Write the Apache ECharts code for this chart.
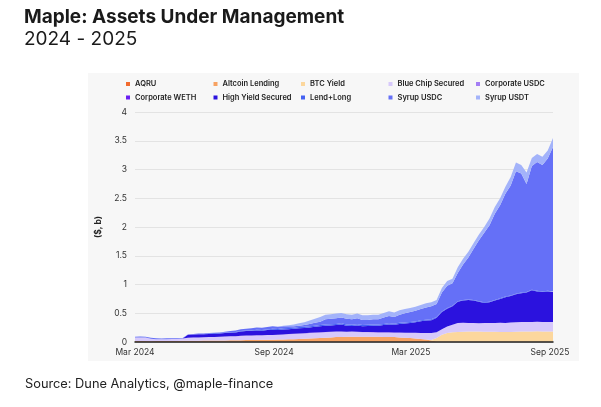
<!DOCTYPE html>
<html>
<head>
<meta charset="utf-8">
<script src="https://cdn.jsdelivr.net/npm/echarts@6/dist/echarts.min.js"></script>
<style>
  html, body { margin: 0; padding: 0; background: #fff; }
  #main { width: 601px; height: 407px; }
</style>
</head>
<body>
<div id="main"></div>
<script>
// weekly points, from 2024-03-01
var startDate = '2024-03-01';
var weeks = 80;

var names = ['AQRU', 'Altcoin Lending', 'BTC Yield', 'Blue Chip Secured', 'Corporate USDC',
    'Corporate WETH', 'High Yield Secured', 'Lend+Long', 'Syrup USDC', 'Syrup USDT'];
var colors = ['#f26b2e', '#f7a262', '#fcd79d', '#d7c9fb', '#a47ef4',
    '#6a1ff2', '#2b12de', '#4462f2', '#6570f7', '#a3b3fa'];

var tickLabels = ['2024-03-01', '2024-09-01', '2025-03-01', '2025-09-01'];

// values in $b
var aqru = [
    0.004,0.004,0.004,0.004,0.004,0.004,0.004,0.004,0.004,0.004,
    0.004,0.004,0.004,0.004,0.004,0.004,0.004,0.004,0.004,0.004,
    0.004,0.004,0.004,0.004,0.004,0.004,0.004,0.004,0.004,0.004,
    0.004,0.004,0.004,0.004,0.004,0.004,0.004,0.004,0.004,0.004,
    0.004,0.004,0.004,0.004,0.004,0.004,0.004,0.004,0.004,0.004,
    0.003,0.003,0.003,0.003,0.003,0.003,0.003,0.003,0.003,0.003,
    0.003,0.003,0.003,0.003,0.003,0.003,0.003,0.003,0.003,0.003,
    0.003,0.003,0.003,0.003,0.003,0.003,0.003,0.003,0.003,0.003
];
var altcoinLending = [
    0.012,0.012,0.012,0.011,0.012,0.013,0.014,0.014,0.015,0.016,
    0.017,0.018,0.019,0.020,0.021,0.022,0.023,0.024,0.026,0.027,
    0.028,0.029,0.030,0.032,0.033,0.034,0.036,0.038,0.040,0.043,
    0.046,0.049,0.053,0.056,0.061,0.066,0.071,0.076,0.081,0.084,
    0.086,0.086,0.088,0.086,0.086,0.087,0.086,0.085,0.084,0.081,
    0.077,0.072,0.067,0.059,0.049,0.039,0.025,0.007,0,0,
    0,0,0,0,0,0,0,0,0,0,
    0,0,0,0,0,0,0,0,0,0
];
var btcYield = [
    0,0,0,0,0,0,0,0,0,0,
    0,0,0,0,0,0,0,0,0,0,
    0,0,0,0,0,0,0,0,0,0,
    0,0,0,0,0,0,0,0,0,0,
    0,0,0,0,0,0,0,0,0,0,
    0,0,0,0,0,0,0.005,0.060,0.125,0.155,
    0.165,0.172,0.175,0.178,0.180,0.178,0.176,0.177,0.175,0.172,
    0.170,0.172,0.175,0.178,0.180,0.180,0.182,0.181,0.180,0.180
];
var blueChipSecured = [
    0.064,0.064,0.062,0.040,0.034,0.033,0.032,0.034,0.033,0.040,
    0.054,0.058,0.057,0.058,0.060,0.062,0.063,0.067,0.070,0.069,
    0.073,0.077,0.076,0.079,0.078,0.082,0.080,0.083,0.086,0.088,
    0.090,0.092,0.093,0.095,0.095,0.095,0.095,0.095,0.095,0.092,
    0.085,0.090,0.083,0.080,0.080,0.077,0.075,0.076,0.077,0.075,
    0.080,0.085,0.088,0.095,0.103,0.113,0.122,0.100,0.092,0.112,
    0.132,0.155,0.157,0.149,0.147,0.144,0.151,0.150,0.152,0.160,
    0.157,0.165,0.167,0.169,0.167,0.167,0.167,0.166,0.167,0.167
];
var corporateUsdc = [
    0,0,0,0,0,0,0,0,0,0,
    0,0,0,0,0,0,0,0,0,0,
    0.002,0.002,0.002,0.002,0.002,0.002,0.002,0.002,0.002,0.002,
    0.002,0.002,0.002,0.002,0.002,0.002,0.002,0.002,0.002,0.002,
    0.002,0.002,0.002,0.002,0.002,0.002,0.002,0.002,0.002,0.002,
    0.002,0.002,0.002,0.002,0.002,0.002,0,0,0,0,
    0,0,0,0,0,0,0,0,0,0,
    0,0,0,0,0,0,0,0,0,0
];
var corporateWeth = [
    0,0,0,0,0,0,0,0,0,0,
    0,0,0,0,0,0,0,0,0,0,
    0,0,0,0,0,0,0,0,0,0,
    0.002,0.002,0.002,0.002,0.002,0.002,0.002,0.002,0.002,0.002,
    0.002,0.002,0.002,0.002,0.002,0.002,0.002,0.002,0.002,0.002,
    0.002,0,0,0,0,0,0,0,0,0,
    0,0,0,0,0,0,0,0,0,0,
    0,0,0,0,0,0,0,0,0,0
];
var highYieldSecured = [
    0,0,0,0,0,0,0,0,0,0,
    0.050,0.050,0.055,0.053,0.055,0.057,0.060,0.060,0.060,0.065,
    0.075,0.080,0.080,0.085,0.080,0.085,0.090,0.080,0.085,0.085,
    0.085,0.090,0.090,0.095,0.100,0.105,0.110,0.110,0.110,0.120,
    0.105,0.095,0.110,0.100,0.105,0.112,0.115,0.125,0.135,0.135,
    0.150,0.160,0.172,0.183,0.205,0.215,0.225,0.250,0.300,0.310,
    0.320,0.370,0.385,0.400,0.390,0.375,0.350,0.360,0.390,0.415,
    0.450,0.460,0.485,0.500,0.510,0.550,0.528,0.520,0.530,0.520
];
var lendLong = [
    0,0,0,0,0,0,0,0,0,0,
    0,0,0,0,0.010,0.010,0.010,0.010,0.010,0.010,
    0.010,0.010,0.010,0.010,0.010,0.010,0.020,0.020,0.020,0.020,
    0.020,0.020,0.020,0.020,0.020,0.020,0.020,0.020,0.020,0.020,
    0.020,0.020,0.020,0.020,0.020,0.020,0.020,0.020,0.020,0.020,
    0.020,0.015,0.015,0.015,0.015,0.015,0.015,0.015,0.010,0.010,
    0.010,0.010,0.010,0.010,0.010,0.010,0.010,0.010,0.010,0.010,
    0.010,0.010,0.010,0.010,0.010,0.010,0.010,0.010,0.010,0.010
];
var syrupUsdc = [
    0.013,0.015,0.014,0.017,0.015,0.013,0.014,0.014,0.013,0.010,
    0.005,0.010,0.015,0.015,0.005,0.005,0.005,0.015,0.020,0.025,
    0.030,0.030,0.035,0.040,0.040,0.045,0.040,0.040,0.035,0.030,
    0.025,0.025,0.030,0.040,0.050,0.060,0.090,0.095,0.100,0.100,
    0.100,0.095,0.105,0.090,0.085,0.090,0.090,0.110,0.130,0.115,
    0.140,0.165,0.175,0.185,0.195,0.215,0.225,0.225,0.330,0.390,
    0.390,0.490,0.620,0.730,0.890,1.060,1.210,1.330,1.500,1.620,
    1.790,1.910,2.130,2.070,1.880,2.150,2.240,2.200,2.300,2.510
];
var syrupUsdt = [
    0,0,0,0,0,0,0,0,0,0,
    0,0,0,0,0,0,0,0,0,0,
    0,0,0,0,0,0,0,0,0.010,0.020,
    0.030,0.040,0.050,0.060,0.070,0.080,0.080,0.080,0.080,0.080,
    0.080,0.080,0.080,0.080,0.080,0.080,0.080,0.080,0.080,0.080,
    0.080,0.070,0.070,0.070,0.070,0.070,0.070,0.070,0.080,0.080,
    0.080,0.100,0.100,0.100,0.100,0.100,0.100,0.120,0.120,0.120,
    0.120,0.150,0.150,0.150,0.200,0.140,0.140,0.140,0.140,0.160
];

var seriesValues = [aqru, altcoinLending, btcYield, blueChipSecured, corporateUsdc,
    corporateWeth, highYieldSecured, lendLong, syrupUsdc, syrupUsdt];

var dates = [];
var t0 = new Date(startDate + 'T00:00:00Z').getTime();
for (var i = 0; i < weeks; i++) {
    dates.push(t0 + i * 7 * 86400000);
}

var monthNames = ['Jan', 'Feb', 'Mar', 'Apr', 'May', 'Jun', 'Jul', 'Aug', 'Sep', 'Oct', 'Nov', 'Dec'];
var tickTimes = tickLabels.map(function (d) { return new Date(d + 'T00:00:00Z').getTime(); });

// stacking needs a time base axis
var series = names.map(function (name, idx) {
    return {
        name: name,
        type: 'line',
        stack: 'aum',
        xAxisIndex: 0,
        showSymbol: false,
        symbol: 'none',
        lineStyle: { width: 0 },
        areaStyle: { color: colors[idx], opacity: 1 },
        itemStyle: { color: colors[idx] },
        data: seriesValues[idx].map(function (v, j) { return [dates[j], v]; })
    };
});

var myChart = echarts.init(document.getElementById('main'), null, { renderer: 'canvas' });

var option = {
    backgroundColor: '#ffffff',
    animation: false,
    textStyle: { fontFamily: 'Inter' },
    graphic: [{
        type: 'rect',
        z: -10,
        shape: { x: 88, y: 73, width: 491, height: 288 },
        style: { fill: '#f7f7f7' }
    }],
    title: [
        {
            text: 'Maple: Assets Under Management',
            left: 24, top: 8, padding: 0,
            textStyle: { fontFamily: 'Inter', fontSize: 19, fontWeight: 700, color: '#1a1a1a' }
        },
        {
            text: '2024 - 2025',
            left: 24, top: 30, padding: 0,
            textStyle: { fontFamily: 'Inter', fontSize: 19, fontWeight: 400, color: '#1a1a1a' }
        },
        {
            text: 'Source: Dune Analytics, @maple-finance',
            left: 25, top: 378, padding: 0,
            textStyle: { fontFamily: 'Inter', fontSize: 12.8, fontWeight: 400, color: '#222' }
        }
    ],
    // one legend, fixed-width items so it wraps into two rows of five
    legend: {
        data: names,
        left: 126,
        top: 79,
        width: 445,
        padding: 0,
        itemGap: 3.5,
        icon: 'rect',
        itemWidth: 4,
        itemHeight: 4,
        selectedMode: false,
        textStyle: { fontFamily: 'Inter', fontSize: 7.5, fontWeight: 600, color: '#222', width: 75, lineHeight: 10 }
    },
    grid: { left: 135, right: 48, top: 112, bottom: 65 },
    xAxis: [
        {
            type: 'time',
            min: dates[0],
            max: dates[dates.length - 1],
            axisLine: { show: false },
            axisTick: { show: false },
            axisLabel: { show: false },
            splitLine: { show: false }
        },
        {
            // label axis, same range
            type: 'value',
            position: 'bottom',
            min: dates[0],
            max: dates[dates.length - 1],
            axisLine: { show: true, onZero: false, lineStyle: { color: '#222', width: 1.5 } },
            axisTick: { show: false },
            splitLine: { show: false },
            z: 5,
            axisLabel: {
                customValues: tickTimes,
                color: '#333',
                fontSize: 8.5,
                margin: 6,
                formatter: function (val) {
                    var d = new Date(val);
                    return monthNames[d.getUTCMonth()] + ' ' + d.getUTCFullYear();
                }
            }
        }
    ],
    yAxis: {
        type: 'value',
        min: 0,
        max: 4,
        interval: 0.5,
        name: '($, b)',
        nameLocation: 'middle',
        nameGap: 19,
        nameTextStyle: { fontFamily: 'Inter', fontSize: 8.5, fontWeight: 700, color: '#222' },
        axisLine: { show: false },
        axisTick: { show: false },
        splitLine: { lineStyle: { color: '#e3e3e3', width: 1 } },
        axisLabel: { color: '#333', fontSize: 8.5, margin: 8 }
    },
    series: series
};

myChart.setOption(option);
</script>
</body>
</html>
